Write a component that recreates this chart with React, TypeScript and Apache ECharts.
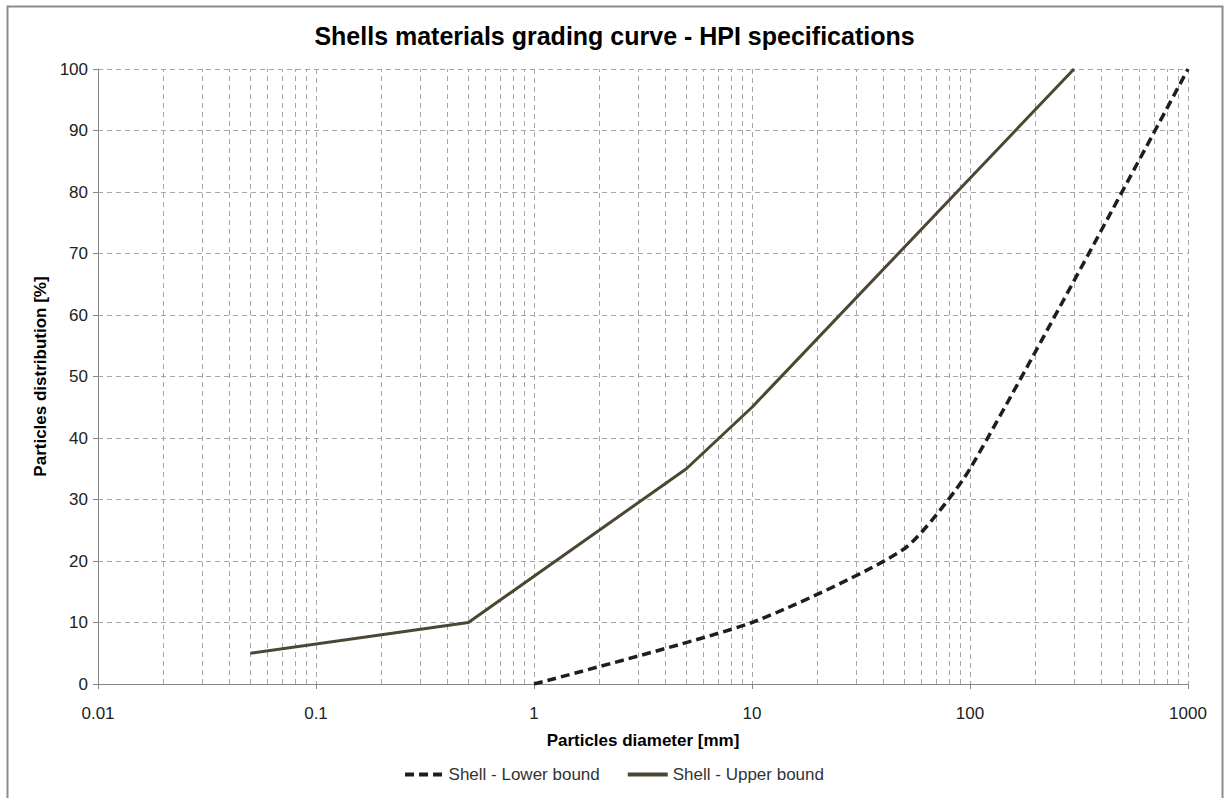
import React, { useEffect, useRef } from "react";
import * as echarts from "echarts";

const titleText = "Shells materials grading curve - HPI specifications";
const xAxisName = "Particles diameter [mm]";
const yAxisName = "Particles distribution [%]";

const lowerName = "Shell - Lower bound";
const lowerDiameters = [1, 10, 50, 100, 1000];
const lowerValues = [0, 10, 22, 35, 100];

const upperName = "Shell - Upper bound";
const upperDiameters = [0.05, 0.5, 5, 10, 300];
const upperValues = [5, 10, 35, 45, 100];

const decades = [0.01, 0.1, 1, 10, 100];
const minorMultipliers = [2, 3, 4, 5, 6, 7, 8, 9];

const FONT = "'Liberation Sans Narrow', 'Liberation Sans', Arial, sans-serif";
const LOWER_COLOR = "#1e1e1e";
const UPPER_COLOR = "#4c4732";

export default function App() {
  const ref = useRef<HTMLDivElement>(null);
  useEffect(() => {
    if (!ref.current) return;
    const chart = echarts.init(ref.current, null, { renderer: "svg" });
    const minorLines: any[] = [];
    decades.forEach((d) =>
      minorMultipliers.forEach((m) => {
        minorLines.push({ xAxis: +(d * m).toPrecision(3) });
      })
    );
    const gridColor = "#a6a6a6";
    chart.setOption({
      animation: false,
      backgroundColor: "#ffffff",
      textStyle: { fontFamily: FONT },
      title: {
        text: titleText,
        left: "center",
        top: 18,
        textStyle: { fontFamily: FONT, fontSize: 25, fontWeight: "bold", color: "#000" },
      },
      graphic: [
        {
          type: "rect",
          shape: { x: 7.5, y: 6.5, width: 1215, height: 800 },
          style: { fill: "none", stroke: "#8c8c8c", lineWidth: 2 },
          silent: true,
        },
      ],
      grid: { left: 98, right: 41, top: 69, bottom: 114, containLabel: false },
      legend: {
        bottom: 10,
        left: "center",
        itemWidth: 40,
        itemHeight: 4,
        itemGap: 28,
        textStyle: { fontFamily: FONT, fontSize: 17, color: "#333" },
        data: [
          {
            name: lowerName,
            icon: "path://M0,0h9v4h-9z M14,0h9v4h-9z M28,0h9v4h-9z",
            itemStyle: { color: LOWER_COLOR },
            lineStyle: { opacity: 0, width: 0 },
          },
          {
            name: upperName,
            icon: "rect",
            itemStyle: { color: UPPER_COLOR },
            lineStyle: { opacity: 0, width: 0 },
          },
        ],
      },
      xAxis: {
        type: "log",
        logBase: 10,
        min: 0.01,
        max: 1000,
        name: xAxisName,
        nameLocation: "middle",
        nameGap: 48,
        nameTextStyle: { fontFamily: FONT, fontSize: 17, fontWeight: "bold", color: "#000" },
        axisLine: { show: true, onZero: false, lineStyle: { color: "#868686", width: 1 } },
        axisTick: { show: true, length: 5, lineStyle: { color: "#868686" } },
        axisLabel: {
          margin: 21,
          fontFamily: FONT,
          fontSize: 17,
          color: "#222",
          formatter: (v: number) => String(+v.toPrecision(6)),
        },
        splitLine: { show: true, lineStyle: { color: gridColor, type: [5, 4], width: 1 } },
        minorTick: { show: false },
        minorSplitLine: { show: false },
      },
      yAxis: {
        type: "value",
        min: 0,
        max: 100,
        interval: 10,
        name: yAxisName,
        nameLocation: "middle",
        nameGap: 47,
        nameTextStyle: { fontFamily: FONT, fontSize: 17, fontWeight: "bold", color: "#000" },
        axisLine: { show: true, lineStyle: { color: "#868686", width: 1 } },
        axisTick: { show: true, length: 5, lineStyle: { color: "#868686" } },
        axisLabel: { margin: 10, fontFamily: FONT, fontSize: 17, color: "#222" },
        splitLine: { show: true, lineStyle: { color: gridColor, type: [5, 4], width: 1 } },
      },
      series: [
        {
          name: lowerName,
          type: "line",
          data: lowerDiameters.map((d, i) => [d, lowerValues[i]]),
          showSymbol: false,
          symbol: "none",
          smooth: 0.2,
          lineStyle: { color: LOWER_COLOR, width: 3.5, type: [9, 5] },
          itemStyle: { color: LOWER_COLOR },
          z: 3,
          markLine: {
            silent: true,
            symbol: "none",
            label: { show: false },
            lineStyle: { color: gridColor, type: [5, 4], width: 1 },
            data: minorLines,
            z: 1,
          },
        },
        {
          name: upperName,
          type: "line",
          data: upperDiameters.map((d, i) => [d, upperValues[i]]),
          showSymbol: false,
          symbol: "none",
          lineStyle: { color: UPPER_COLOR, width: 3 },
          itemStyle: { color: UPPER_COLOR },
          z: 3,
        },
      ],
    });
    return () => chart.dispose();
  }, []);
  return (
    <div
      ref={ref}
      style={{ position: "fixed", left: 0, top: 0, width: 1229, height: 798 }}
    />
  );
}
